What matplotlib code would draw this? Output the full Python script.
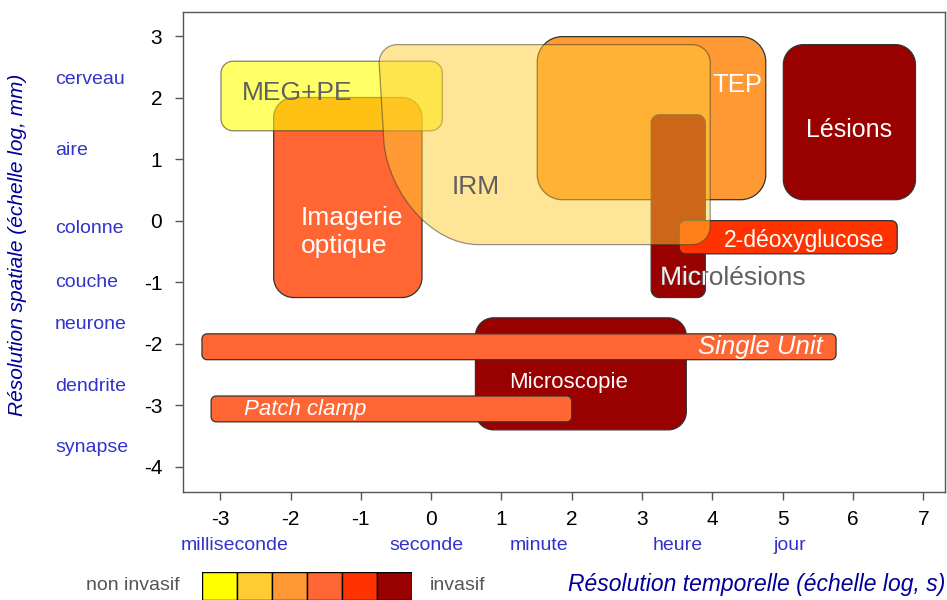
import matplotlib
matplotlib.use("Agg")
import matplotlib.pyplot as plt
import matplotlib.patheffects as pe
from matplotlib.path import Path
from matplotlib.patches import PathPatch, Rectangle

# techniques: (name, t_min, t_max, s_min, s_max)  -- log10 s / log10 mm
names = ["Microscopie", "Single Unit", "Patch clamp", "Lésions", "TEP",
         "Microlésions", "2-déoxyglucose", "Imagerie optique", "MEG+PE", "IRM"]
t_min = [0.63, -3.26, -3.13, 5.01, 1.51, 3.13, 3.53, -2.24, -2.99, -0.74]
t_max = [3.63, 5.76, 2.00, 6.89, 4.76, 3.90, 6.63, -0.13, 0.16, 3.97]
s_min = [-3.40, -2.26, -3.27, 0.34, 0.34, -1.25, -0.54, -1.25, 1.46, -0.39]
s_max = [-1.58, -1.84, -2.85, 2.86, 2.99, 1.72, 0.00, 2.00, 2.59, 2.86]

# invasiveness level 0..5
level = [5, 3, 3, 5, 2, 5, 4, 3, 0, 1]
level_colors = ["#ffff00", "#ffcc33", "#ff9933", "#ff6633", "#ff3300", "#990000"]

space_labels = ["cerveau", "aire", "colonne", "couche", "neurone", "dendrite", "synapse"]
space_pos = [2.29, 1.14, -0.13, -1.01, -1.69, -2.70, -3.69]
time_labels = ["milliseconde", "seconde", "minute", "heure", "jour"]
time_pos = [-2.8, -0.07, 1.54, 3.51, 5.11]

xticks = list(range(-3, 8))
yticks = list(range(-4, 4))

# style per box
radius_px = [18, 5, 5, 20, 25, 8, 6, 20, 12, 18]
alphas = [1, 1, 1, 1, 1, 1, 1, 1, 0.6, 0.5]

PX_X = 70.3
PX_Y = 61.57


def rounded_path(x0, x1, y0, y1, rx, ry, curved=False):
    k = 0.45
    verts, codes = [], []
    if curved:
        # IRM: left side sweeps into the bottom edge
        verts += [(x0, y1 - ry), (x0, y1 - ry * k), (x0 + rx * k, y1), (x0 + rx, y1)]
        codes += [Path.MOVETO, Path.CURVE4, Path.CURVE4, Path.CURVE4]
    else:
        verts += [(x0, y0 + ry), (x0, y1 - ry), (x0, y1 - ry * k), (x0 + rx * k, y1), (x0 + rx, y1)]
        codes += [Path.MOVETO, Path.LINETO, Path.CURVE4, Path.CURVE4, Path.CURVE4]
    verts += [(x1 - rx, y1), (x1 - rx * k, y1), (x1, y1 - ry * k), (x1, y1 - ry),
              (x1, y0 + ry), (x1, y0 + ry * k), (x1 - rx * k, y0), (x1 - rx, y0)]
    codes += [Path.LINETO, Path.CURVE4, Path.CURVE4, Path.CURVE4,
              Path.LINETO, Path.CURVE4, Path.CURVE4, Path.CURVE4]
    if curved:
        w = x1 - x0
        h = y1 - y0
        verts += [(x0 + 0.30 * w, y0), (x0 + 0.16 * w, y0),
                  (x0 + 0.033 * w, y0 + 0.25 * h), (x0 + 0.015 * w, y0 + 0.5 * h),
                  (x0, y1 - ry), (x0, y1 - ry)]
        codes += [Path.LINETO, Path.CURVE4, Path.CURVE4, Path.CURVE4,
                  Path.LINETO, Path.CLOSEPOLY]
    else:
        verts += [(x0 + rx, y0), (x0 + rx * k, y0), (x0, y0 + ry * k), (x0, y0 + ry), (x0, y0 + ry)]
        codes += [Path.LINETO, Path.CURVE4, Path.CURVE4, Path.CURVE4, Path.CLOSEPOLY]
    return Path(verts, codes)


fn = ["Liberation Sans", "DejaVu Sans"]
plt.rcParams["font.family"] = fn

fig = plt.figure(figsize=(9.47, 6.0), dpi=100)
ax = fig.add_axes([183 / 947, 108 / 600, 762 / 947, 480 / 600])
ax.set_xlim(-3.53, 7.31)
ax.set_ylim(-4.41, 3.39)

patches = {}
for i, n in enumerate(names):
    rx = radius_px[i] / PX_X
    ry = radius_px[i] / PX_Y
    p = rounded_path(t_min[i], t_max[i], s_min[i], s_max[i], rx, ry, curved=(n == "IRM"))
    patch = PathPatch(p, facecolor=level_colors[level[i]], alpha=alphas[i],
                      edgecolor="#333333", lw=0.9, zorder=2 + i)
    ax.add_patch(patch)
    patches[n] = patch

txt = dict(ha="center", va="center", zorder=30)
ax.text(-1.91, 2.08, "MEG+PE", color="#606060", fontsize=19, **txt)
ax.text(4.35, 2.21, "TEP", color="white", fontsize=18.5, **txt)
ax.text(5.95, 1.48, "Lésions", color="white", fontsize=18, **txt)
ax.text(0.63, 0.54, "IRM", color="#606060", fontsize=19, **txt)
ax.text(-1.85, -0.18, "Imagerie\noptique", color="white", fontsize=19,
        linespacing=1.2, ha="left", va="center", multialignment="left", zorder=30)
ax.text(5.3, -0.33, "2-déoxyglucose", color="white", fontsize=16.5, **txt)
ax.text(4.3, -0.93, "Microlésions", color="#606060", fontsize=19, **txt)
mt = ax.text(4.3, -0.93, "Microlésions", color="#eeeeee", fontsize=19,
             path_effects=[pe.Normal()], **txt)
mt.set_clip_on(True)
mt.set_clip_path(patches["Microlésions"])
mt.set_zorder(31)
ax.text(1.96, -2.63, "Microscopie", color="white", fontsize=16, **txt)
ax.text(4.69, -2.05, "Single Unit", color="white", fontsize=18.5, style="italic", **txt)
ax.text(-1.79, -3.07, "Patch clamp", color="white", fontsize=16, style="italic", **txt)

ax.set_xticks(xticks)
ax.set_yticks(yticks)
ax.set_xticklabels([str(v) for v in xticks], fontsize=15)
ax.set_yticklabels([str(v) for v in yticks], fontsize=15)
ax.tick_params(direction="out", length=6, width=1, color="#555555", pad=7)
ax.tick_params(axis="y", pad=9)
for s in ax.spines.values():
    s.set_color("#555555")
    s.set_linewidth(1)

blue = "#3333cc"
ytrans = ax.get_yaxis_transform()
for lab, pos in zip(space_labels, space_pos):
    ax.text(-0.168, pos, lab, transform=ytrans, color=blue, fontsize=14,
            ha="left", va="center", clip_on=False)
xtrans = matplotlib.transforms.blended_transform_factory(ax.transData, fig.transFigure)
for lab, pos in zip(time_labels, time_pos):
    ax.text(pos, 1 - 545 / 600, lab, transform=xtrans, color=blue, fontsize=14,
            ha="center", va="center", clip_on=False)

fig.text(18 / 947, 1 - 245 / 600, "Résolution spatiale (échelle log, mm)", rotation=90,
         color="#000099", fontsize=15, style="italic", ha="center", va="center")
fig.text(945 / 947, 1 - 585 / 600, "Résolution temporelle (échelle log, s)",
         color="#000099", fontsize=16.5, style="italic", ha="right", va="center")

# invasiveness scale
cax = fig.add_axes([202 / 947, 0, 210 / 947, 28 / 600])
cax.set_xlim(0, len(level_colors))
cax.set_ylim(0, 1)
for i, c in enumerate(level_colors):
    cax.add_patch(Rectangle((i, 0), 1, 1, facecolor=c, edgecolor="black", lw=1))
cax.axis("off")
fig.text(180 / 947, 1 - 585 / 600, "non invasif", color="#555555", fontsize=14,
         ha="right", va="center")
fig.text(430 / 947, 1 - 585 / 600, "invasif", color="#555555", fontsize=14,
         ha="left", va="center")

fig.savefig("out.png", dpi=100)
